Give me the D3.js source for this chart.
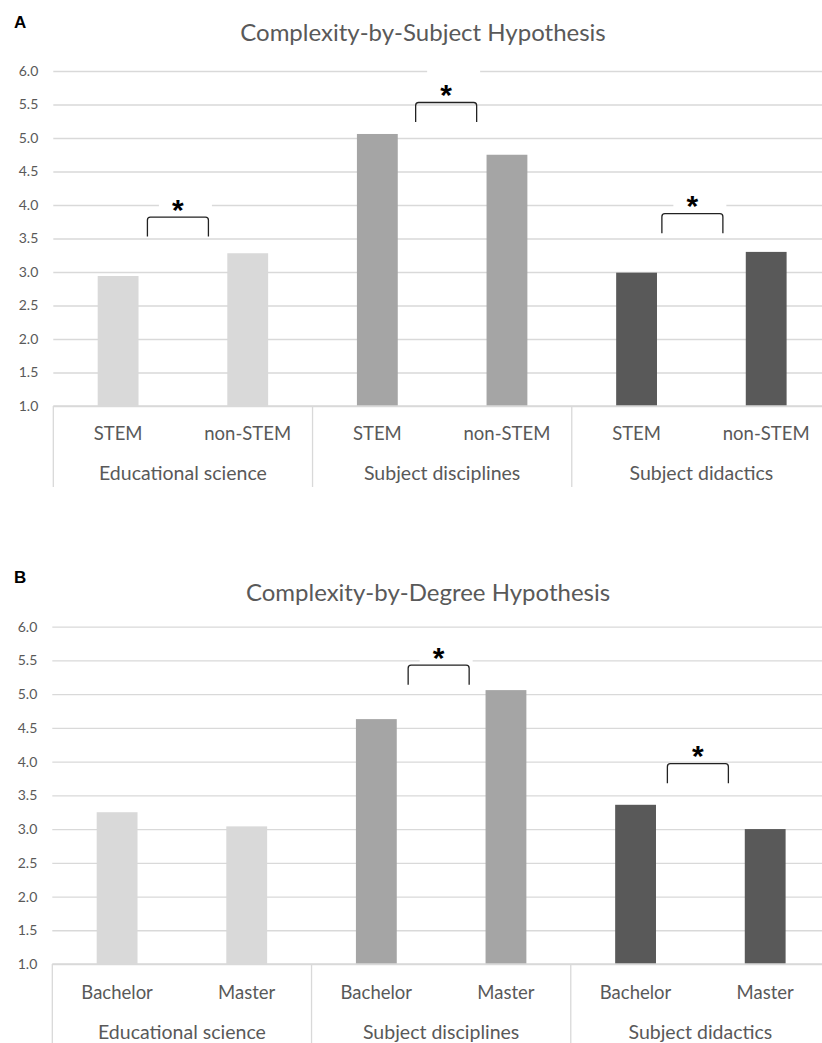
<!DOCTYPE html>
<html>
<head>
<meta charset="utf-8">
<script src="https://cdn.jsdelivr.net/npm/d3@7"></script>
<style>
  body { margin: 0; background: #fff; }
  text { font-family: Lato, "Open Sans", sans-serif; }
</style>
</head>
<body>
<div id="chart"></div>
<script>
// data
const groups = ["Educational science", "Subject disciplines", "Subject didactics"];
const groupColors = ["#d9d9d9", "#a5a5a5", "#595959"];
const yTicks = [1.0, 1.5, 2.0, 2.5, 3.0, 3.5, 4.0, 4.5, 5.0, 5.5, 6.0];

const subjectLabels = ["STEM", "non-STEM"];
const subjectValues = [[2.94, 3.28], [5.06, 4.75], [2.99, 3.30]];
// significance brackets: group index, top of bracket (y units), nudge in px
const subjectBrackets = [
  { group: 0, top: 3.82, dx: -5 },
  { group: 1, top: 5.53, dx: 4 },
  { group: 2, top: 3.87, dx: -9 }
];

const degreeLabels = ["Bachelor", "Master"];
const degreeValues = [[3.25, 3.04], [4.63, 5.06], [3.36, 3.00]];
const degreeBrackets = [
  { group: 1, top: 5.43, dx: -2.5 },
  { group: 2, top: 3.97, dx: -2.5 }
];

const width = 822, height = 1043;
const lineCol = "#d9d9d9";
const textCol = "#595959";

const svg = d3.select("#chart").append("svg")
  .attr("width", width)
  .attr("height", height);

function drawPanel(p) {
  const g = svg.append("g").attr("class", "panel");

  const y = d3.scaleLinear().domain([1, 6]).range([p.yBottom, p.yTop]);
  const x = d3.scaleBand().domain(groups).range([p.x0, p.x1]).paddingInner(0).paddingOuter(0);
  const xSub = d3.scaleBand().domain(p.labels).range([0, x.bandwidth()])
    .paddingInner(0.685).paddingOuter(0.3425);

  // panel letter + title
  g.append("text")
    .attr("x", 14).attr("y", p.letterY)
    .style("font-family", "'Liberation Sans', Arial, sans-serif")
    .style("font-weight", "bold")
    .style("font-size", "17px")
    .attr("fill", "#000")
    .text(p.letter);

  g.append("text")
    .attr("x", p.titleX).attr("y", p.titleY)
    .attr("text-anchor", "middle")
    .style("font-size", "24px")
    .attr("fill", textCol)
    .text(p.title);

  // gridlines + tick labels
  const yAxis = g.append("g")
    .attr("transform", `translate(${p.x0},0)`)
    .call(d3.axisLeft(y).tickValues(yTicks).tickFormat(d3.format(".1f"))
      .tickSize(-(p.x1 - p.x0)).tickPadding(15));
  yAxis.select(".domain").remove();
  yAxis.selectAll(".tick line").attr("stroke", lineCol).attr("stroke-width", 1.3);
  yAxis.selectAll(".tick text")
    .attr("fill", textCol)
    .style("font-family", "Lato, sans-serif")
    .style("font-size", "14px");

  // white boxes behind the asterisks (they cut the gridlines)
  const bracketW = 61, legH = 19.5;
  const bx = b => x(groups[b.group]) + x.bandwidth() / 2 + b.dx;
  g.selectAll(".star-box")
    .data(p.brackets)
    .enter().append("rect")
    .attr("class", "star-box")
    .attr("x", d => bx(d) - 19)
    .attr("y", d => y(d.top) - 14.5 - 20)
    .attr("width", 53)
    .attr("height", 32)
    .attr("fill", "#fff");

  // bars
  const barData = [];
  p.values.forEach((vals, gi) => vals.forEach((v, si) =>
    barData.push({ group: groups[gi], gi: gi, sub: p.labels[si], value: v })));

  g.selectAll(".bar")
    .data(barData)
    .enter().append("rect")
    .attr("class", "bar")
    .attr("x", d => x(d.group) + xSub(d.sub))
    .attr("y", d => y(d.value))
    .attr("width", xSub.bandwidth())
    .attr("height", d => y(1) - y(d.value))
    .attr("fill", d => groupColors[d.gi]);

  // category axis: baseline and group dividers
  g.append("line")
    .attr("x1", p.x0).attr("x2", p.x1)
    .attr("y1", y(1)).attr("y2", y(1))
    .attr("stroke", lineCol).attr("stroke-width", 1.3);

  const edges = groups.map(d => x(d)).concat([p.x1]);
  g.selectAll(".divider")
    .data(edges)
    .enter().append("line")
    .attr("class", "divider")
    .attr("x1", d => d).attr("x2", d => d)
    .attr("y1", y(1)).attr("y2", y(1) + p.dividerLen)
    .attr("stroke", lineCol).attr("stroke-width", 1.3);

  g.selectAll(".sub-label")
    .data(barData)
    .enter().append("text")
    .attr("class", "sub-label")
    .attr("x", d => x(d.group) + xSub(d.sub) + xSub.bandwidth() / 2)
    .attr("y", y(1) + p.subDy)
    .attr("text-anchor", "middle")
    .attr("fill", textCol)
    .style("font-size", "18.5px")
    .text(d => d.sub);

  g.selectAll(".group-label")
    .data(groups)
    .enter().append("text")
    .attr("class", "group-label")
    .attr("x", d => x(d) + x.bandwidth() / 2)
    .attr("y", y(1) + p.groupDy)
    .attr("text-anchor", "middle")
    .attr("fill", textCol)
    .style("font-size", "19.5px")
    .text(d => d);

  // significance brackets
  const r = 3;
  g.selectAll(".bracket")
    .data(p.brackets)
    .enter().append("path")
    .attr("class", "bracket")
    .attr("fill", "none")
    .attr("stroke", "#222")
    .attr("stroke-width", 1.3)
    .attr("d", d => {
      const l = bx(d) - bracketW / 2, rr = bx(d) + bracketW / 2, t = y(d.top);
      return `M${l},${t + legH} L${l},${t + r} Q${l},${t} ${l + r},${t} ` +
             `L${rr - r},${t} Q${rr},${t} ${rr},${t + r} L${rr},${t + legH}`;
    });

  g.selectAll(".star")
    .data(p.brackets)
    .enter().append("text")
    .attr("class", "star")
    .attr("x", d => bx(d))
    .attr("y", d => y(d.top) - 14.5 + 17)
    .attr("text-anchor", "middle")
    .style("font-family", "'Liberation Sans', Arial, sans-serif")
    .style("font-weight", "bold")
    .style("font-size", "30px")
    .attr("fill", "#000")
    .text("*");
}

drawPanel({
  letter: "A", letterY: 28,
  title: "Complexity-by-Subject Hypothesis", titleX: 423, titleY: 41,
  labels: subjectLabels, values: subjectValues, brackets: subjectBrackets,
  yTop: 71, yBottom: 406, x0: 53.3, x1: 831,
  subDy: 34, groupDy: 74, dividerLen: 81
});

drawPanel({
  letter: "B", letterY: 583,
  title: "Complexity-by-Degree Hypothesis", titleX: 428, titleY: 601,
  labels: degreeLabels, values: degreeValues, brackets: degreeBrackets,
  yTop: 626.7, yBottom: 964, x0: 52.3, x1: 830,
  subDy: 35, groupDy: 75, dividerLen: 85
});
</script>
</body>
</html>
